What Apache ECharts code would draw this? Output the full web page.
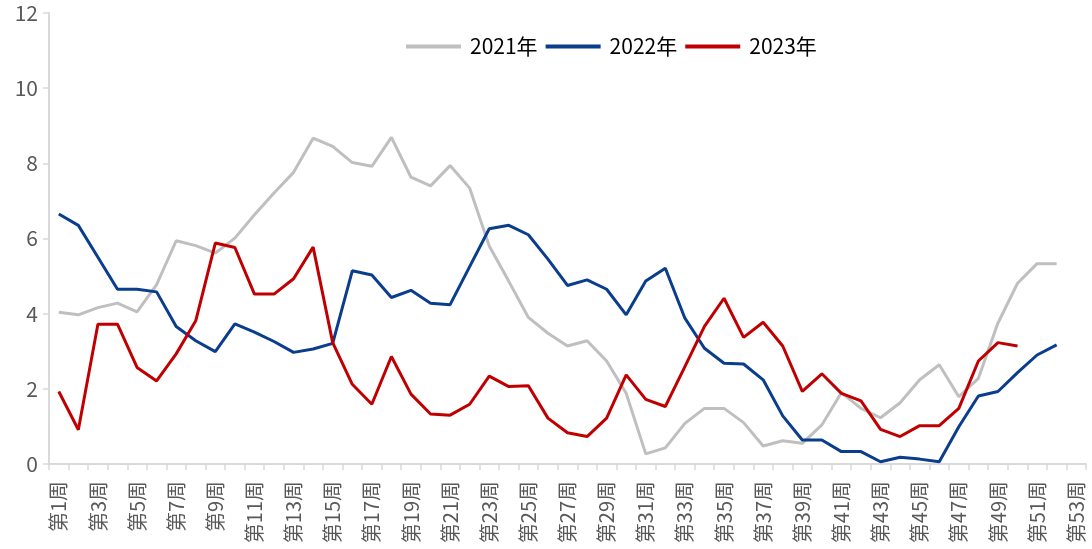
<!DOCTYPE html>
<html>
<head>
<meta charset="utf-8">
<script src="https://cdn.jsdelivr.net/npm/echarts@6/dist/echarts.min.js"></script>
<style>html,body{margin:0;padding:0;background:#fff;}#c{width:1092px;height:549px;}</style>
</head>
<body>
<div id="c"></div>
<script>
var categories = [];
for (var i = 1; i <= 53; i++) categories.push('第' + i + '周');
var s2021 = [4.04,3.97,4.16,4.28,4.05,4.77,5.94,5.81,5.61,6.01,6.63,7.21,7.76,8.67,8.45,8.02,7.92,8.69,7.63,7.40,7.94,7.34,5.80,4.86,3.90,3.48,3.14,3.28,2.74,1.88,0.27,0.43,1.08,1.48,1.48,1.10,0.48,0.62,0.55,1.04,1.90,1.48,1.23,1.63,2.24,2.64,1.79,2.28,3.75,4.81,5.33,5.33];
var s2022 = [6.65,6.35,5.50,4.65,4.65,4.58,3.66,3.28,2.99,3.73,3.51,3.26,2.97,3.06,3.21,5.14,5.03,4.43,4.62,4.28,4.24,5.25,6.26,6.35,6.10,5.45,4.75,4.90,4.65,3.97,4.87,5.21,3.88,3.08,2.68,2.66,2.24,1.28,0.64,0.64,0.33,0.33,0.06,0.18,0.13,0.06,0.99,1.81,1.93,2.43,2.90,3.17];
var s2023 = [1.93,0.91,3.72,3.72,2.57,2.21,2.93,3.81,5.88,5.76,4.52,4.52,4.93,5.77,3.23,2.12,1.59,2.86,1.86,1.33,1.30,1.59,2.34,2.06,2.08,1.22,0.83,0.73,1.22,2.37,1.72,1.53,2.59,3.66,4.41,3.37,3.77,3.14,1.93,2.40,1.88,1.68,0.92,0.73,1.02,1.02,1.48,2.74,3.23,3.14];
var seriesNames = ['2021年','2022年','2023年'];
var colors = ['#BFBFBF','#0A3D8C','#C00000'];

var chart = echarts.init(document.getElementById('c'));
var font = '"Noto Sans CJK SC", "Noto Sans", sans-serif';
chart.setOption({
  animation: false,
  color: colors,
  textStyle: {fontFamily: font},
  legend: {
    data: seriesNames,
    left: 401, top: 31,
    icon: 'rect', itemWidth: 55, itemHeight: 4, itemGap: 8,
    textStyle: {fontSize: 21, color: '#000', fontFamily: font, padding: [0,0,0,4]}
  },
  grid: {left: 49, right: 6, top: 13, bottom: 85, containLabel: false},
  xAxis: {
    type: 'category', data: categories, boundaryGap: true,
    axisLine: {lineStyle: {color: '#D9D9D9', width: 2}},
    axisTick: {show: true, interval: 0, length: 6, lineStyle: {color: '#D9D9D9', width: 1.5}},
    axisLabel: {interval: 1, rotate: 90, fontSize: 20, color: '#595959', margin: 17, fontFamily: font}
  },
  yAxis: {
    type: 'value', min: 0, max: 12, interval: 2,
    axisLine: {show: true, lineStyle: {color: '#D9D9D9', width: 2}},
    axisTick: {show: true, length: 6, inside: false, lineStyle: {color: '#D9D9D9', width: 1.5}},
    splitLine: {show: false},
    axisLabel: {fontSize: 21, color: '#595959', margin: 11, fontFamily: font}
  },
  series: [
    {name: seriesNames[0], type: 'line', data: s2021, showSymbol: false, symbol: 'none', lineStyle: {width: 3, color: colors[0]}},
    {name: seriesNames[1], type: 'line', data: s2022, showSymbol: false, symbol: 'none', lineStyle: {width: 3, color: colors[1]}},
    {name: seriesNames[2], type: 'line', data: s2023, showSymbol: false, symbol: 'none', lineStyle: {width: 3, color: colors[2]}}
  ]
});
</script>
</body>
</html>
